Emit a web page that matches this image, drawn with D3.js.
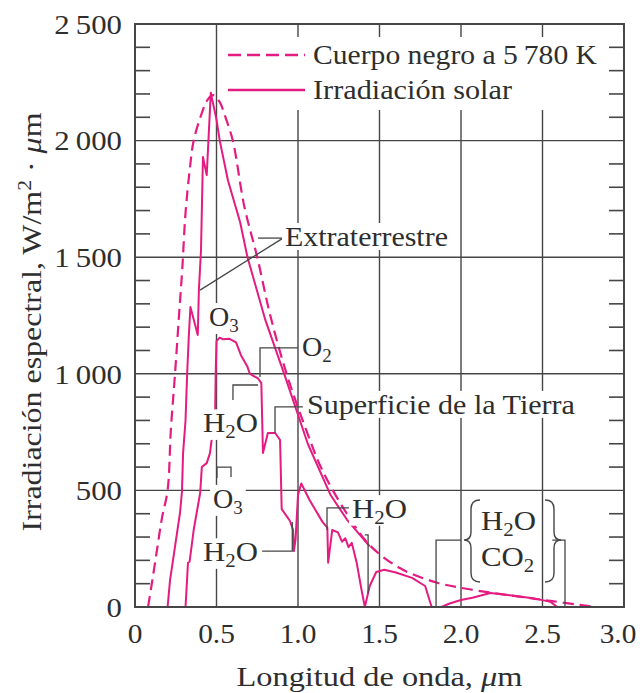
<!DOCTYPE html>
<html><head><meta charset="utf-8">
<script src="https://cdn.jsdelivr.net/npm/d3@7"></script>
<style>
body{margin:0;background:#fff}
svg{display:block}
text{font-family:"Liberation Serif","Times New Roman",serif;fill:#2e2e2e}
</style>
</head><body>
<svg id="chart" width="640" height="693"></svg>
<script>
// ---- data ----
const bbWave  = [0.08,0.10,0.135,0.165,0.20,0.22,0.245,0.27,0.29,0.31,0.335,0.36,0.41,0.445,0.48,0.52,0.55,0.60,0.67,0.75,0.83,0.93,1.05,1.15,1.30,1.44,1.63,1.85,2.06,2.28,2.56,2.83];
const bbValue = [0,86,245,380,500,760,995,1250,1450,1690,1870,2000,2118,2175,2195,2165,2110,2000,1720,1500,1250,1000,760,585,400,265,165,105,75,52,25,0];

const etWave  = [0.20,0.215,0.245,0.276,0.288,0.295,0.31,0.32,0.33,0.34,0.385,0.392,0.405,0.41,0.417,0.44,0.465,0.50,0.52,0.57,0.645,0.69,0.80,0.92,1.06,1.20,1.30,1.44];
const etValue = [0,115,257,403,493,660,800,1000,1160,1286,1166,1360,1530,1700,1930,1852,2205,2090,2000,1830,1650,1500,1230,990,700,480,375,260];

const sfWave  = [0.31,0.318,0.325,0.335,0.36,0.40,0.41,0.44,0.46,0.47,0.49,0.495,0.50,0.52,0.54,0.58,0.62,0.65,0.69,0.705,0.755,0.775,0.785,0.815,0.86,0.89,0.90,0.95,0.97,0.975,0.985,1.00,1.02,1.07,1.15,1.18,1.185,1.21,1.245,1.27,1.29,1.31,1.33,1.36,1.39,1.41,1.44,1.48,1.53,1.60,1.70,1.78,1.82];
const sfValue = [0,100,190,195,330,490,600,617,660,716,746,1000,1140,1155,1148,1150,1135,1080,1030,1000,980,960,660,746,746,716,420,370,330,240,290,480,530,460,365,340,190,330,320,280,295,257,275,190,73,0,90,150,160,148,125,90,0];

const sf2Wave  = [1.88,1.93,2.00,2.07,2.18,2.30,2.44,2.55,2.59];
const sf2Value = [0,15,30,40,60,50,38,22,0];

const xTickValues = [0,0.5,1.0,1.5,2.0,2.5,3.0];
const xTickLabels = ["0","0.5","1.0","1.5","2.0","2.5","3.0"];
const yTickValues = [0,500,1000,1500,2000,2500];
const yTickLabels = ["0","500","1\u2009000","1\u2009500","2\u2009000","2\u2009500"];

const legendLabels = ["Cuerpo negro a 5\u2009780 K","Irradiación solar"];

// ---- setup ----
const W = 640, H = 693;
const m = {left:135, right:16, top:24, bottom:86};
const svg = d3.select("#chart");
const x = d3.scaleLinear().domain([0,3]).range([m.left, W-m.right]);
const y = d3.scaleLinear().domain([0,2500]).range([H-m.bottom, m.top]);
const pink = "#e41b80", ink = "#464646";
const FS = 28, SX = 1.1;
function stretch(sel, ax, sx){ sel.attr("transform",`translate(${ax},0) scale(${sx||SX},1) translate(${-ax},0)`); }

// grid
svg.append("g").selectAll("line").data([500,1000,1500,2000]).join("line")
  .attr("x1",x(0)).attr("x2",x(3)).attr("y1",d=>y(d)).attr("y2",d=>y(d))
  .attr("stroke",ink).attr("stroke-width",1.4);
svg.append("g").selectAll("line").data([0.5,1.0,1.5,2.0,2.5]).join("line")
  .attr("y1",y(0)).attr("y2",y(2500)).attr("x1",d=>x(d)).attr("x2",d=>x(d))
  .attr("stroke",ink).attr("stroke-width",1.4);

// minor ticks
const minor = d3.range(100,2500,100).filter(v=>v%500!==0);
svg.append("g").selectAll("line").data(minor).join("line")
  .attr("x1",x(0)).attr("x2",x(0)+15).attr("y1",d=>y(d)).attr("y2",d=>y(d))
  .attr("stroke",ink).attr("stroke-width",1.6);
svg.append("g").selectAll("line").data(minor).join("line")
  .attr("x1",x(3)-15).attr("x2",x(3)).attr("y1",d=>y(d)).attr("y2",d=>y(d))
  .attr("stroke",ink).attr("stroke-width",1.6);

// curves
const line = d3.line().x(d=>x(d[0])).y(d=>y(d[1]));
const zip = (a,b)=>a.map((v,i)=>[v,b[i]]);
svg.append("path").datum(zip(bbWave,bbValue))
  .attr("d",d3.line().x(d=>x(d[0])).y(d=>y(d[1])).curve(d3.curveCatmullRom.alpha(0.5)))
  .attr("fill","none").attr("stroke",pink).attr("stroke-width",2.2).attr("stroke-dasharray","11,6");
[zip(etWave,etValue), zip(sfWave,sfValue), zip(sf2Wave,sf2Value)].forEach(dd=>{
  svg.append("path").datum(dd).attr("d",line)
    .attr("fill","none").attr("stroke",pink).attr("stroke-width",2).attr("stroke-linejoin","round");
});

// annotation leader lines (data coordinates)
const leaders = [
  [[0.767,986],[0.767,1111],[1.0,1111]],
  [[0.601,888],[0.601,952],[0.755,952]],
  [[0.859,746],[0.859,858],[1.03,858]],
  [[0.503,553],[0.503,600],[0.589,600],[0.589,557]],
  [[0.78,240],[0.965,240],[0.965,364]],
  [[1.178,330],[1.178,425],[1.331,425]],
  [[1.41,309],[1.43,309],[1.43,60]],
  [[1.847,0],[1.847,287],[2.0,287]],
  [[2.56,287],[2.638,287],[2.638,0]],
  [[0.908,1582],[0.755,1582]],
  [[0.908,1582],[0.399,1359]]
];
svg.append("g").selectAll("path").data(leaders).join("path")
  .attr("d",line).attr("fill","none").attr("stroke",ink).attr("stroke-width",1.3);

// labels with white backgrounds
const labels = [
  {t:"O", s:"3", o:"", x:0.454, y:1205, sx:1},
  {t:"O", s:"2", o:"", x:1.025, y:1076, sx:1},
  {t:"H", s:"2", o:"O", x:0.417, y:750},
  {t:"Superficie de la Tierra", s:"", o:"", x:1.055, y:828, len:268},
  {t:"O", s:"3", o:"", x:0.479, y:425, sx:1},
  {t:"H", s:"2", o:"O", x:0.417, y:197},
  {t:"H", s:"2", o:"O", x:1.331, y:382},
  {t:"Extraterrestre", s:"", o:"", x:0.92, y:1548, len:163},
  {t:"H", s:"2", o:"O", x:2.123, y:330, nobg:true},
  {t:"CO", s:"2", o:"", x:2.123, y:176, nobg:true}
];
const lg = svg.append("g");
labels.forEach(L=>{
  const g = lg.append("g");
  const tx = g.append("text").attr("x",x(L.x)).attr("y",y(L.y)).attr("font-size",FS);
  tx.append("tspan").text(L.t);
  if(L.s){ tx.append("tspan").attr("font-size",19).attr("dy",6).text(L.s);
    if(L.o) tx.append("tspan").attr("dy",-6).text(L.o); }
  if(L.len){ tx.attr("textLength",L.len).attr("lengthAdjust","spacingAndGlyphs"); }
  else if(L.sx!==1){ stretch(tx, x(L.x)); }
  if(!L.nobg){
    const b = tx.node().getBBox();
    const s = (L.len||L.sx===1)?1:SX;
    const bx = x(L.x) + (b.x - x(L.x))*s;
    g.insert("rect","text").attr("x",bx-3).attr("y",b.y+2).attr("width",b.width*s+6).attr("height",b.height-4).attr("fill","#fff");
  }
});

// braces
const braceL = "M480,500 Q471,500 471,509 L471,532 Q471,540 464,540 Q471,540 471,548 L471,573 Q471,582 480,582";
const braceR = "M545,500 Q554,500 554,509 L554,532 Q554,540 561,540 Q554,540 554,548 L554,573 Q554,582 545,582";
[braceL,braceR].forEach(p=>svg.append("path").attr("d",p).attr("fill","none").attr("stroke",ink).attr("stroke-width",1.4));

// legend
svg.append("rect").attr("x",226).attr("y",37).attr("width",374).attr("height",73).attr("fill","#fff");
svg.append("line").attr("x1",228).attr("x2",305).attr("y1",55).attr("y2",55)
  .attr("stroke",pink).attr("stroke-width",2.4).attr("stroke-dasharray","13,6");
svg.append("line").attr("x1",228).attr("x2",305).attr("y1",90).attr("y2",90)
  .attr("stroke",pink).attr("stroke-width",2.4);
svg.append("text").attr("x",313).attr("y",64).attr("font-size",FS).attr("textLength",284).attr("lengthAdjust","spacingAndGlyphs").text(legendLabels[0]);
svg.append("text").attr("x",313).attr("y",99).attr("font-size",FS).attr("textLength",199).attr("lengthAdjust","spacingAndGlyphs").text(legendLabels[1]);

// frame
svg.append("rect").attr("x",x(0)).attr("y",y(2500)).attr("width",x(3)-x(0)).attr("height",y(0)-y(2500))
  .attr("fill","none").attr("stroke",ink).attr("stroke-width",2);

// tick labels
const xPos = d => Math.min(x(d), 618);
svg.append("g").selectAll("text").data(xTickValues).join("text")
  .attr("x",d=>xPos(d)).attr("y",643).attr("text-anchor","middle").attr("font-size",FS)
  .text((d,i)=>xTickLabels[i])
  .each(function(d){ stretch(d3.select(this), xPos(d), 1.05); });
svg.append("g").selectAll("text").data(yTickValues).join("text")
  .attr("x",122).attr("y",d=>y(d)).attr("dy","0.35em").attr("text-anchor","end").attr("font-size",FS)
  .text((d,i)=>yTickLabels[i])
  .each(function(){ stretch(d3.select(this), 122); });

// axis titles
svg.append("text").attr("x",(x(0)+x(3))/2).attr("y",686).attr("text-anchor","middle").attr("font-size",FS)
  .attr("textLength",286).attr("lengthAdjust","spacingAndGlyphs")
  .html("Longitud de onda, <tspan font-style='italic'>μ</tspan>m");
const yt = svg.append("text").attr("transform","translate(41,322) rotate(-90)").attr("text-anchor","middle").attr("font-size",FS)
  .attr("textLength",419).attr("lengthAdjust","spacingAndGlyphs");
yt.append("tspan").text("Irradiación espectral, W/m");
yt.append("tspan").attr("font-size",19).attr("dy",-10).text("2");
yt.append("tspan").attr("dy",10).text(" · ");
yt.append("tspan").attr("font-style","italic").text("μ");
yt.append("tspan").text("m");
</script>
</body></html>
